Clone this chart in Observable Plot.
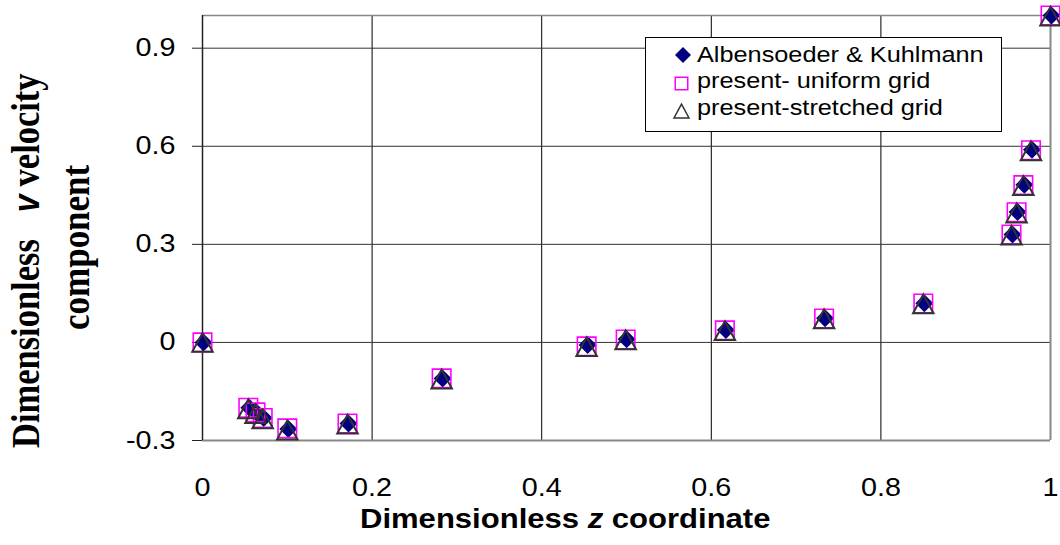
<!DOCTYPE html>
<html><head><meta charset="utf-8">
<script src="https://cdn.jsdelivr.net/npm/d3@7"></script>
<script src="https://cdn.jsdelivr.net/npm/@observablehq/plot@0.6"></script>
<style>body{margin:0;background:#fff} svg{display:block} text{white-space:pre}</style>
</head><body><div id="chart"></div>
<script>
// ---- data ----
const zCoord = [0, 0.054, 0.0625, 0.071, 0.100, 0.171, 0.282, 0.453, 0.499, 0.616, 0.733, 0.850, 0.954, 0.960, 0.968, 0.977, 1.0];
const vAlbensoeder = [0, -0.200, -0.214, -0.231, -0.265, -0.248, -0.110, -0.008, 0.010, 0.038, 0.074, 0.120, 0.330, 0.399, 0.482, 0.589, 1.0];
const vUniform = [0, -0.200, -0.214, -0.231, -0.263, -0.248, -0.110, -0.012, 0.009, 0.037, 0.073, 0.119, 0.330, 0.398, 0.481, 0.588, 1.0];
const vStretched = [0, -0.203, -0.218, -0.234, -0.268, -0.250, -0.112, -0.013, 0.008, 0.036, 0.072, 0.118, 0.328, 0.396, 0.480, 0.586, 0.998];
const seriesNames = ["Albensoeder & Kuhlmann", "present- uniform grid", "present-stretched grid"];
const xTicks = [0, 0.2, 0.4, 0.6, 0.8, 1];
const xTickLabels = ["0", "0.2", "0.4", "0.6", "0.8", "1"];
const yTicks = [-0.3, 0, 0.3, 0.6, 0.9];
const yTickLabels = ["-0.3", "0", "0.3", "0.6", "0.9"];
const xTitle = ["Dimensionless ", "z", " coordinate"];
const yTitle1 = ["Dimensionless", "v", "velocity"];
const yTitle2 = "component";

// ---- build ----
const rows = zCoord.map((z, i) => ({z, a: vAlbensoeder[i], u: vUniform[i], s: vStretched[i]}));
const xLab = new Map(xTicks.map((t, i) => [t, xTickLabels[i]]));
const yLab = new Map(yTicks.map((t, i) => [t, yTickLabels[i]]));
const SQ = Math.sqrt(Math.PI);
const diamondSym = {draw(c, size) {const h = Math.sqrt(size) / 2; c.moveTo(0, -h); c.lineTo(h, 0); c.lineTo(0, h); c.lineTo(-h, 0); c.closePath();}};
const squareSym = {draw(c, size) {const h = Math.sqrt(size) / 2; c.moveTo(-h, -h); c.lineTo(h, -h); c.lineTo(h, h); c.lineTo(-h, h); c.closePath();}};
const triSym = {draw(c, size) {const w = Math.sqrt(size) / 2, h = w * 0.92; c.moveTo(0, -h); c.lineTo(w, h); c.lineTo(-w, h); c.closePath();}};

const chart = Plot.plot({
  width: 1060, height: 545,
  marginLeft: 202, marginRight: 10, marginTop: 15, marginBottom: 105,
  x: {domain: [0, 1]},
  y: {domain: [-0.3, 1.0]},
  style: {fontFamily: "'Liberation Sans', Arial, sans-serif", background: "#fff", color: "#000"},
  marks: [
    Plot.gridX(xTicks.slice(1, -1), {stroke: "#000", strokeOpacity: 1, strokeWidth: 1}),
    Plot.gridY(yTicks.slice(1), {stroke: "#333", strokeOpacity: 1, strokeWidth: 1}),
    Plot.ruleY([1.0], {stroke: "#888", strokeWidth: 1.5}),
    Plot.ruleY([-0.3], {stroke: "#888", strokeWidth: 2}),
    Plot.ruleX([1], {stroke: "#888", strokeWidth: 2}),
    Plot.ruleX([0], {stroke: "#222", strokeWidth: 1.5}),
    Plot.axisY(yTicks, {tickSize: 10, tickPadding: 17, fontSize: 25, tickFormat: d => yLab.get(d), label: null, stroke: "#222"}),
    Plot.axisX(xTicks, {tickSize: 0, tickPadding: 38, fontSize: 25, tickFormat: d => xLab.get(d), label: null}),
    Plot.dot(rows, {x: "z", y: "a", symbol: diamondSym, r: 18 / SQ, fill: "#000080", stroke: "none", dx: 1}),
    Plot.dot(rows, {x: "z", y: "u", symbol: squareSym, r: 18.5 / SQ, fill: "none", stroke: "#ff00ff", strokeWidth: 1.6}),
    Plot.dot(rows, {x: "z", y: "s", symbol: triSym, r: 20.5 / SQ, fill: "none", stroke: "#333", strokeWidth: 2})
  ]
});
document.getElementById("chart").appendChild(chart);

const svg = d3.select(chart);
const STRETCH = 1.15;
svg.selectAll('[aria-label$="tick label"] text').each(function () {
  const t = this.getAttribute("transform") || "";
  this.setAttribute("transform", t + ` scale(${STRETCH},1)`);
});

// x title
const xt = svg.append("g").attr("transform", `translate(360,528) scale(${STRETCH},1)`)
  .append("text").attr("text-anchor", "start").attr("font-family", "'Liberation Sans', Arial, sans-serif").attr("font-weight", "bold").attr("font-size", 27).attr("fill", "#000");
xt.append("tspan").text(xTitle[0]);
xt.append("tspan").attr("font-style", "italic").text(xTitle[1]);
xt.append("tspan").text(xTitle[2]);

// y title
const yt1 = svg.append("g").attr("transform", `translate(39,448) scale(${STRETCH},1) rotate(-90)`)
  .append("text").attr("text-anchor", "start").attr("font-family", "'Liberation Serif', 'Times New Roman', serif").attr("font-weight", "bold").attr("font-size", 34.5).attr("fill", "#000");
yt1.append("tspan").text(yTitle1[0]);
yt1.append("tspan").attr("dx", 27).attr("font-family", "'Liberation Sans', Arial, sans-serif").attr("font-style", "italic").attr("font-size", 32).text(yTitle1[1]);
yt1.append("tspan").attr("dx", 8).text(yTitle1[2]);
svg.append("g").attr("transform", `translate(89,330) scale(${STRETCH},1) rotate(-90)`)
  .append("text").attr("text-anchor", "start").attr("font-family", "'Liberation Serif', 'Times New Roman', serif").attr("font-weight", "bold").attr("font-size", 35).attr("fill", "#000").text(yTitle2);

// legend
const symPath = (sym, s) => {const p = d3.path(); sym.draw(p, s * s); return p.toString();};
const lg = svg.append("g");
lg.append("rect").attr("x", 645.5).attr("y", 37.5).attr("width", 356).attr("height", 94).attr("fill", "#fff").attr("stroke", "#000").attr("stroke-width", 1);
const baselines = [62, 88, 115];
const symY = [55, 83.5, 111];
lg.append("path").attr("d", symPath(diamondSym, 16)).attr("transform", `translate(683,${symY[0]})`).attr("fill", "#000080");
lg.append("path").attr("d", symPath(squareSym, 12.5)).attr("transform", `translate(681.5,${symY[1]})`).attr("fill", "none").attr("stroke", "#ff00ff").attr("stroke-width", 1.5);
lg.append("path").attr("d", symPath(triSym, 15)).attr("transform", `translate(681.5,${symY[2]})`).attr("fill", "none").attr("stroke", "#333").attr("stroke-width", 1.5);
seriesNames.forEach((name, i) => {
  lg.append("g").attr("transform", `translate(697,${baselines[i]}) scale(${STRETCH},1)`)
    .append("text").attr("text-anchor", "start").attr("font-family", "'Liberation Sans', Arial, sans-serif").attr("font-size", 22).attr("fill", "#000").text(name);
});
</script>
</body></html>
